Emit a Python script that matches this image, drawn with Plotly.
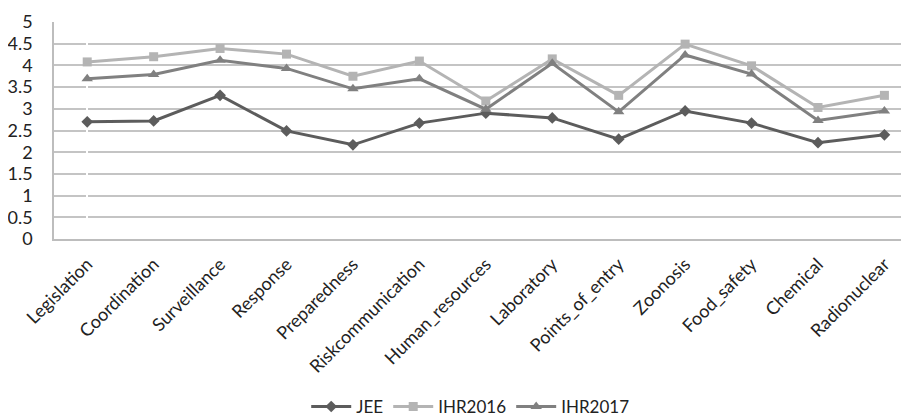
import plotly.graph_objects as go

categories = ["Legislation", "Coordination", "Surveillance", "Response", "Preparedness",
              "Riskcommunication", "Human_resources", "Laboratory", "Points_of_entry",
              "Zoonosis", "Food_safety", "Chemical", "Radionuclear"]
jee = [2.70, 2.72, 3.31, 2.49, 2.17, 2.67, 2.90, 2.79, 2.30, 2.95, 2.67, 2.22, 2.40]
ihr2016 = [4.08, 4.20, 4.39, 4.26, 3.75, 4.10, 3.18, 4.15, 3.31, 4.49, 3.99, 3.03, 3.31]
ihr2017 = [3.69, 3.79, 4.12, 3.93, 3.46, 3.69, 2.99, 4.05, 2.93, 4.24, 3.80, 2.73, 2.95]
y_ticks = [0, 0.5, 1, 1.5, 2, 2.5, 3, 3.5, 4, 4.5, 5]

x = list(range(len(categories)))

fig = go.Figure()
fig.add_trace(go.Scatter(x=x, y=jee, name="JEE", mode="lines+markers",
                         line=dict(color="#5c5c5c", width=3),
                         marker=dict(symbol="diamond", size=9, color="#5c5c5c")))
fig.add_trace(go.Scatter(x=x, y=ihr2016, name="IHR2016", mode="lines+markers",
                         line=dict(color="#b4b4b4", width=3),
                         marker=dict(symbol="square", size=9, color="#b4b4b4")))
fig.add_trace(go.Scatter(x=x, y=ihr2017, name="IHR2017", mode="lines+markers",
                         line=dict(color="#808080", width=3),
                         marker=dict(symbol="triangle-up", size=10, color="#808080")))

font_family = "Lato, Open Sans, sans-serif"
# the page body adds an 8px margin, so the figure is 8px smaller than the window
fig.update_layout(
    width=901, height=410,
    margin=dict(l=46, r=0, t=14, b=179, autoexpand=False),
    paper_bgcolor="white", plot_bgcolor="white",
    font=dict(family=font_family, size=17, color="#222222"),
    showlegend=True,
    legend=dict(orientation="h", xref="container", yref="container",
                x=0.513, xanchor="center", y=0.027, yanchor="middle",
                font=dict(size=17, color="#222222"), itemwidth=40, traceorder="normal"),
    xaxis=dict(range=[-0.5, 12.37], tickmode="array", tickvals=x, ticktext=categories,
               tickangle=-45, showgrid=False, showline=True, linecolor="#bdbdbd", linewidth=1.5,
               ticks="", tickfont=dict(size=18), automargin=False, ticklabelstandoff=6),
    yaxis=dict(range=[0, 5], tickmode="array", tickvals=y_ticks,
               ticktext=[f"{v:g}" for v in y_ticks],
               showgrid=True, gridcolor="#c4c4c4", gridwidth=1.5,
               showline=True, linecolor="#bdbdbd", linewidth=1.5, zeroline=False,
               ticks="", tickfont=dict(size=18), automargin=False, ticklabelstandoff=16),
)

fig.write_html("out.html")
